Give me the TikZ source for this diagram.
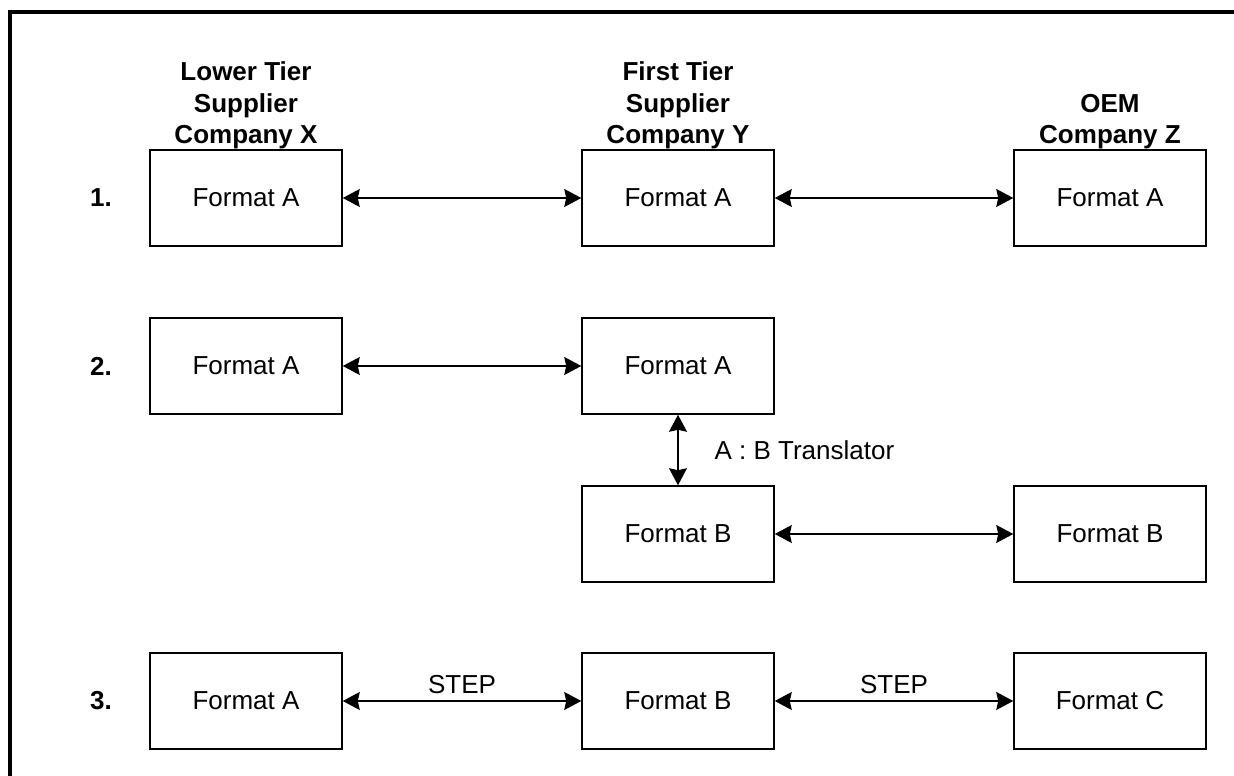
\documentclass[tikz,border=0pt]{standalone}
\usepackage{fontspec}
\setmainfont{Liberation Sans}
\usetikzlibrary{arrows.meta, positioning}

\tikzset{
  fmtbox/.style={draw, line width=0.9pt, minimum width=3.84cm, minimum height=1.92cm, inner sep=0pt},
  header/.style={font=\fontsize{14.8}{17.9}\selectfont\bfseries, align=center, inner sep=0pt},
  rowlabel/.style={font=\fontsize{14.8}{17.9}\selectfont\bfseries, inner sep=0pt},
  link/.style={{Stealth[length=0.34cm, width=0.36cm, inset=0.04cm]}-{Stealth[length=0.34cm, width=0.36cm, inset=0.04cm]}, line width=0.6pt}
}

\begin{document}
\begin{tikzpicture}[x=0.02cm, y=-0.02cm, every node/.append style={font=\fontsize{14.8}{17.9}\selectfont}]
\useasboundingbox (0,0) rectangle (1234,776);
% frame
\draw[line width=2.3pt] (1234,12) -- (10,12) -- (10,776);
% boxes
\foreach \name/\x/\y/\text in {x1/246/198/A, y1/678/198/A, z1/1110/198/A, x2/246/366/A, y2/678/366/A, y2b/678/534/B, z2b/1110/534/B, x3/246/701/A, y3/678/701/B, z3/1110/701/C} {
    \node[fmtbox] (\name) at (\x,\y) {Format \text};
}
% column headers
\node[header, above=0pt of x1] (hx) {Lower Tier\\Supplier\\Company X};
\node[header, above=0pt of y1] (hy) {First Tier\\Supplier\\Company Y};
\node[header, above=0pt of z1] (hz) {OEM\\Company Z};
% row numbers
\foreach \name/\num in {x1/1, x2/2, x3/3} {
    \node[rowlabel, left=0.74cm of \name] (r\num) {\num.};
}
% links
\draw[link] (x1) -- (y1);
\draw[link] (y1) -- (z1);
\draw[link] (x2) -- (y2);
\draw[link] (y2) -- (y2b) node[midway, right=0.72cm, inner sep=0pt] (trans) {A : B Translator};
\draw[link] (y2b) -- (z2b);
\draw[link] (x3) -- (y3) node[midway, above=0.14cm, inner sep=0pt] (step1) {STEP};
\draw[link] (y3) -- (z3) node[midway, above=0.14cm, inner sep=0pt] (step2) {STEP};
\end{tikzpicture}
\end{document}
